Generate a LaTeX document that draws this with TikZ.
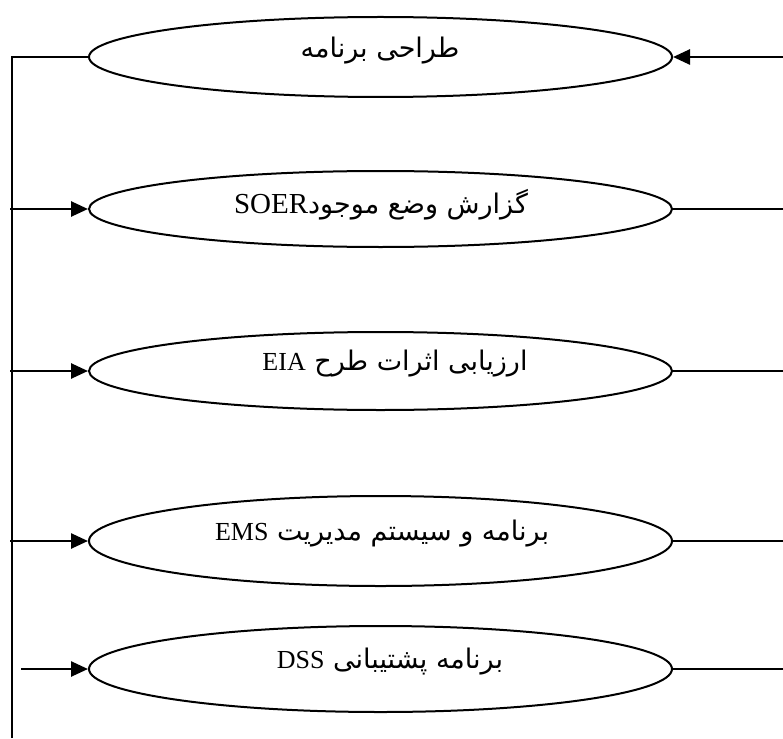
\documentclass[tikz,border=0pt]{standalone}
\usepackage{fontspec}
\setmainfont{Liberation Serif}
\newfontfamily\arabicfont[Script=Arabic]{DejaVu Sans}
\newfontfamily\latfont{Liberation Serif}
\TeXXeTstate=1
\usetikzlibrary{shapes.geometric,arrows.meta,calc}
\begin{document}
\begin{tikzpicture}[x=1pt,y=-1pt,
  oval/.style={draw,line width=2pt,ellipse,minimum width=583pt,inner sep=0pt},
  lbl/.style={inner sep=0pt,font=\arabicfont\fontsize{27}{30}\selectfont},
  conn/.style={line width=2.6pt},
  arr/.style={line width=2.6pt,-{Triangle[length=17pt,width=15pt]}}]
\useasboundingbox (0,0) rectangle (783,738);
\fill[white] (0,0) rectangle (783,738);
% ellipses
\node[oval,minimum height=80pt] (e1) at (380.5,57) {};
\node[oval,minimum height=76pt] (e2) at (380.5,209) {};
\node[oval,minimum height=78pt] (e3) at (380.5,371) {};
\node[oval,minimum height=90pt] (e4) at (380.5,541) {};
\node[oval,minimum height=86pt] (e5) at (380.5,669) {};
% labels
\node[lbl] (t1) at (380,51) {\beginR طراحی برنامه\endR};
\node[lbl] (t2) at (381,205) {\beginR گزارش وضع موجود{\latfont\fontsize{29}{30}\selectfont\beginL SOER\endL}\endR};
\node[lbl] (t3) at (395,364) {\beginR ارزیابی اثرات طرح {\latfont\fontsize{26}{30}\selectfont\beginL EIA\endL}\endR};
\node[lbl] (t4) at (382,534) {\beginR برنامه و سیستم مدیریت {\latfont\fontsize{26}{30}\selectfont\beginL EMS\endL}\endR};
\node[lbl] (t5) at (390,662) {\beginR برنامه پشتیبانی {\latfont\fontsize{26}{30}\selectfont\beginL DSS\endL}\endR};
% left side
\coordinate (lt) at (12,57);
\coordinate (lb) at (12,738);
\coordinate (l2) at (10,209);
\coordinate (l3) at (10,371);
\coordinate (l4) at (10,541);
\coordinate (l5) at (21,669);
\draw[conn] (lb) -- (lt) -- (e1.west);
\draw[arr] (l2) -- (e2.west);
\draw[arr] (l3) -- (e3.west);
\draw[arr] (l4) -- (e4.west);
\draw[arr] (l5) -- (e5.west);
% right side
\coordinate (r1) at (783,57);
\coordinate (r2) at (783,209);
\coordinate (r3) at (783,371);
\coordinate (r4) at (783,541);
\coordinate (r5) at (783,669);
\draw[arr] (r1) -- (e1.east);
\draw[conn] (e2.east) -- (r2);
\draw[conn] (e3.east) -- (r3);
\draw[conn] (e4.east) -- (r4);
\draw[conn] (e5.east) -- (r5);
\end{tikzpicture}
\end{document}
